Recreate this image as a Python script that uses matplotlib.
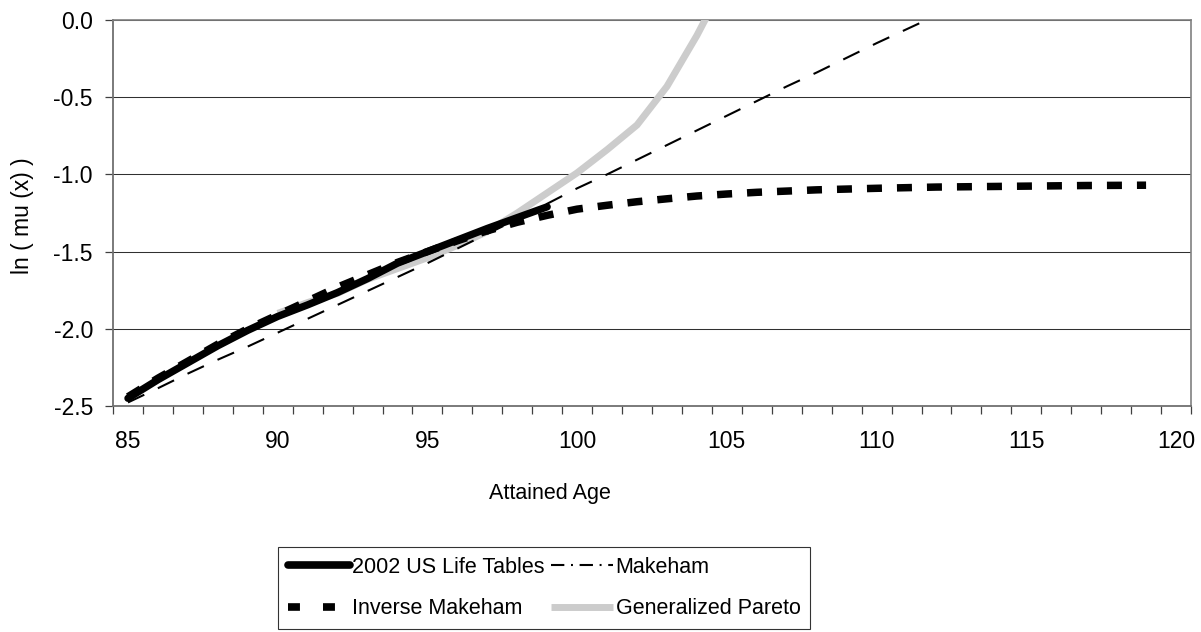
import matplotlib
matplotlib.use("Agg")
import matplotlib.pyplot as plt
from matplotlib.lines import Line2D
from matplotlib.ticker import MultipleLocator, FixedLocator, FormatStrFormatter

plt.rcParams['font.family'] = ['Liberation Sans', 'DejaVu Sans']
plt.rcParams['axes.unicode_minus'] = False
plt.rcParams['lines.scale_dashes'] = False

# ---------------- data ----------------
life_ages = list(range(85, 100))
life_vals = [-2.45, -2.33, -2.22, -2.11, -2.01, -1.92, -1.845, -1.765, -1.675,
             -1.575, -1.50, -1.425, -1.35, -1.28, -1.21]

makeham_ages = list(range(85, 113))
makeham_vals = [-2.477, -2.385, -2.29, -2.20, -2.115, -2.025, -1.935, -1.845,
                -1.755, -1.665, -1.575, -1.48, -1.385, -1.29, -1.19, -1.09,
                -1.00, -0.905, -0.81, -0.715, -0.62, -0.525, -0.43, -0.34,
                -0.245, -0.15, -0.06, 0.03]

invmak_ages = list(range(85, 120))
invmak_vals = [-2.44, -2.32, -2.21, -2.10, -2.00, -1.91, -1.82, -1.73, -1.65,
               -1.57, -1.50, -1.43, -1.365, -1.31, -1.265, -1.225, -1.20,
               -1.177, -1.158, -1.14, -1.127, -1.116, -1.108, -1.10, -1.095,
               -1.09, -1.086, -1.082, -1.08, -1.078, -1.076, -1.074, -1.072,
               -1.071, -1.07]

pareto_ages = list(range(90, 106))
pareto_vals = [-1.90, -1.83, -1.77, -1.68, -1.61, -1.54, -1.46, -1.37, -1.25,
               -1.12, -0.99, -0.84, -0.68, -0.43, -0.10, 0.27]

x_labels = [85, 90, 95, 100, 105, 110, 115, 120]
y_ticks = [-2.5, -2.0, -1.5, -1.0, -0.5, 0.0]
series_names = ["2002 US Life Tables", "Makeham", "Inverse Makeham", "Generalized Pareto"]

# ---------------- figure ----------------
W, H = 1201, 632
fig = plt.figure(figsize=(W / 100, H / 100), dpi=100)
fig.patch.set_facecolor('white')
ax = fig.add_axes([113 / W, (H - 406) / H, (1191 - 113) / W, (406 - 20) / H])

pareto_color = '#cccccc'
ax.plot(pareto_ages, pareto_vals, color=pareto_color, lw=5.0,
        solid_capstyle='butt', solid_joinstyle='miter', zorder=3)
ax.plot(life_ages, life_vals, color='black', lw=5.3,
        solid_capstyle='round', zorder=4)
ax.plot(invmak_ages, invmak_vals, color='black', lw=5.4,
        dashes=(10.8, 10.8), dash_capstyle='butt', zorder=5)
ax.plot(makeham_ages, makeham_vals, color='black', lw=1.5,
        dashes=(13.0, 10.8), dash_capstyle='butt', zorder=6)

ax.set_xlim(84.5, 120.5)
ax.set_ylim(-2.5, 0.0)

# x axis: category-style ticks at boundaries, labels at centres
ax.xaxis.set_major_locator(FixedLocator(x_labels))
ax.xaxis.set_minor_locator(MultipleLocator(1.0, offset=0.5))
ax.tick_params(axis='x', which='major', length=0, pad=17, labelsize=16.5,
               colors='black')
ax.tick_params(axis='x', which='minor', length=6, width=0.9, color='#404040',
               direction='out')
ax.yaxis.set_major_locator(FixedLocator(y_ticks))
ax.yaxis.set_major_formatter(FormatStrFormatter('%.1f'))
ax.tick_params(axis='y', which='major', length=6, width=0.9, color='#404040',
               pad=8.4, labelsize=16.5, direction='out')

ax.yaxis.grid(True, color='#303030', lw=0.75, zorder=0)
ax.set_axisbelow(True)
for s in ['left', 'bottom']:
    ax.spines[s].set_color('#707070')
    ax.spines[s].set_linewidth(1.3)
for s in ['right', 'top']:
    ax.spines[s].set_color('#808080')
    ax.spines[s].set_linewidth(1.2)

fig.text(22 / W, 1 - 216 / H, "ln ( mu (x) )", rotation=90, ha='center',
         va='center', fontsize=16.5)
fig.text(550 / W, 1 - 499 / H, "Attained Age", ha='center', va='baseline',
         fontsize=15.5)

# legend (matplotlib fills columns first: reorder so rows read as in the reference)
h_life = Line2D([], [], color='black', lw=5.5, solid_capstyle='round')
h_mak = Line2D([], [], color='black', lw=1.5, dashes=(9.6, 4.8, 1.4, 4.8))
h_inv = Line2D([], [], color='black', lw=5.5, dashes=(8.6, 16.6))
h_par = Line2D([], [], color=pareto_color, lw=5.0, solid_capstyle='butt')
handles = [h_life, h_inv, h_mak, h_par]
labels = [series_names[0], series_names[2], series_names[1], series_names[3]]
leg = fig.legend(handles, labels, loc='upper left',
                 bbox_to_anchor=(278 / W, 1 - 547 / H), ncol=2,
                 fontsize=15.5, frameon=True, fancybox=False, shadow=False,
                 handlelength=2.88, handletextpad=0.1, columnspacing=0.33,
                 borderpad=0.45, labelspacing=0.95, borderaxespad=0)
leg.get_frame().set_edgecolor('black')
leg.get_frame().set_linewidth(0.8)

fig.savefig("out.png", dpi=100)
